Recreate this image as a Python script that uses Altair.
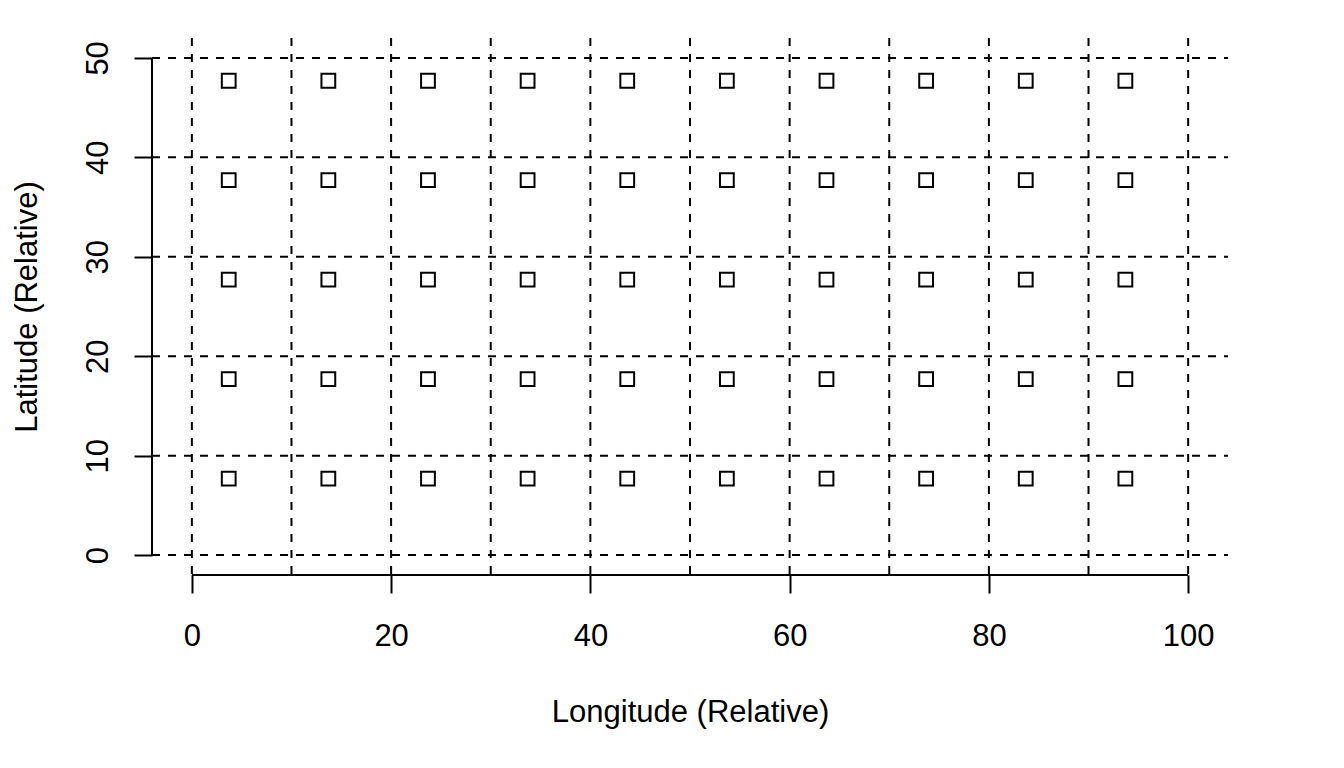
import altair as alt
import pandas as pd

# Data
lon_centers = [3.7, 13.7, 23.7, 33.7, 43.7, 53.7, 63.7, 73.7, 83.7, 93.7]
lat_centers = [7.7, 17.7, 27.7, 37.7, 47.7]
x_grid = [0, 10, 20, 30, 40, 50, 60, 70, 80, 90, 100]
y_grid = [0, 10, 20, 30, 40, 50]
x_ticks = [0, 20, 40, 60, 80, 100]
y_ticks = [0, 10, 20, 30, 40, 50]

points = pd.DataFrame([(lo, la) for la in lat_centers for lo in lon_centers],
                      columns=["lon", "lat"])
xg = pd.DataFrame({"x": x_grid})
yg = pd.DataFrame({"y": y_grid})

W, H = 1076, 537
FONT = "Liberation Sans"
FS = 31

xscale = alt.Scale(domain=[-4, 104], nice=False, zero=False)
yscale = alt.Scale(domain=[-2, 52], nice=False, zero=False)

xaxis = alt.Axis(values=x_ticks, domain=False, grid=False, tickSize=18, tickWidth=2,
                 tickColor="black", labelFont=FONT, labelFontSize=FS, labelColor="black",
                 labelPadding=28, labelBaseline="top", labelAlign="center",
                 title="Longitude (Relative)", titleFont=FONT, titleFontSize=FS,
                 titleFontWeight="normal", titleColor="black", titleBaseline="middle",
                 titleY=137, labelFlush=False, labelOverlap=False)
yaxis = alt.Axis(values=y_ticks, domain=False, grid=False, tickSize=18, tickWidth=2,
                 tickColor="black", labelFont=FONT, labelFontSize=FS, labelColor="black",
                 labelPadding=20, labelAngle=270, labelAlign="center", labelBaseline="bottom",
                 title="Latitude (Relative)", titleFont=FONT, titleFontSize=FS,
                 titleFontWeight="normal", titleColor="black", titleBaseline="middle",
                 titleX=-125, titleAngle=270, labelFlush=False, labelOverlap=False)

vgrid = alt.Chart(xg).mark_rule(color="black", strokeWidth=2, strokeDash=[8, 8]).encode(
    x=alt.X("x:Q", scale=xscale, axis=xaxis),
    y=alt.value(0), y2=alt.value(H))
hgrid = alt.Chart(yg).mark_rule(color="black", strokeWidth=2, strokeDash=[8, 8]).encode(
    y=alt.Y("y:Q", scale=yscale, axis=yaxis),
    x=alt.value(0), x2=alt.value(W))

xline = alt.Chart(pd.DataFrame({"a": [0], "b": [100]})).mark_rule(
    color="black", strokeWidth=2).encode(
    x=alt.X("a:Q", scale=xscale), x2="b:Q", y=alt.value(H))
yline = alt.Chart(pd.DataFrame({"a": [0], "b": [50]})).mark_rule(
    color="black", strokeWidth=2).encode(
    y=alt.Y("a:Q", scale=yscale), y2="b:Q", x=alt.value(0))

pts = alt.Chart(points).mark_point(shape="square", filled=False, color="black",
                                   size=190, strokeWidth=2, opacity=1).encode(
    x=alt.X("lon:Q", scale=xscale),
    y=alt.Y("lat:Q", scale=yscale))

chart = alt.layer(vgrid, hgrid, xline, yline, pts).properties(
    width=W, height=H,
    autosize=alt.AutoSizeParams(type="none"),
    padding={"left": 144, "top": 30, "right": 100, "bottom": 190},
    background="white",
).configure_view(stroke=None)

chart.save("out.html", embed_options={"renderer": "svg", "actions": False})
